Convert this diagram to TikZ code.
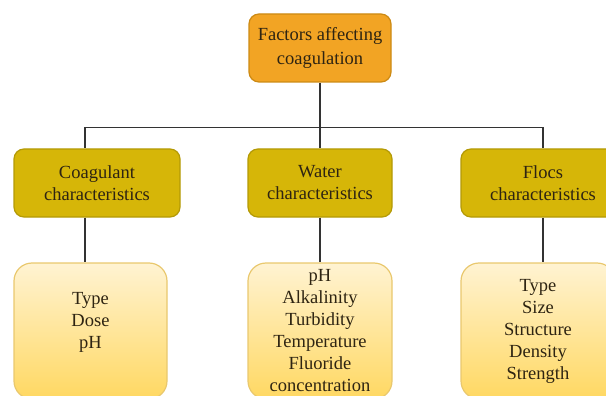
\documentclass[tikz,border=0pt]{standalone}
\usepackage{fontspec}
\setmainfont{Liberation Serif}
\usepackage{tikz}
\usetikzlibrary{positioning}

\definecolor{topfill}{HTML}{F2A424}
\definecolor{topdraw}{HTML}{CC8A14}
\definecolor{midfill}{HTML}{D6B608}
\definecolor{middraw}{HTML}{B49A06}
\definecolor{listtop}{HTML}{FFF3D2}
\definecolor{listbot}{HTML}{FFD862}
\definecolor{listdraw}{HTML}{E9C86E}
\definecolor{txt}{HTML}{2E2412}

\tikzset{
  every node/.style = {text = txt, font = \fontsize{18.5}{22}\selectfont, align = center},
  headbox/.style = {draw = topdraw, fill = topfill, line width = 1.2pt, rounded corners = 10pt,
                    minimum width = 142pt, minimum height = 68pt, font = \fontsize{18.5}{24}\selectfont},
  groupbox/.style = {draw = middraw, fill = midfill, line width = 1.2pt, rounded corners = 10pt,
                     minimum height = 68pt},
  listbox/.style = {draw = listdraw, top color = listtop, bottom color = listbot, line width = 1.2pt,
                    rounded corners = 18pt, minimum height = 136pt},
  link/.style = {draw = black!80, line width = 1.1pt}
}

\begin{document}
\begin{tikzpicture} [node distance = 135pt, on grid]
\useasboundingbox (0,0) rectangle (606pt,-396pt);
\clip (0,0) rectangle (606pt,-396pt);

\node[headbox] (top) at (320pt,-48pt) {Factors affecting\\coagulation};

\node[groupbox, minimum width = 144pt] (water) [below = of top] {Water\\characteristics};
\node[groupbox, minimum width = 166pt] (coag) [left = 223pt of water] {Coagulant\\characteristics};
\node[groupbox, minimum width = 164pt] (flocs) [right = 223pt of water] {Flocs\\characteristics};

\node[listbox, minimum width = 144pt] (waterList) [below = 148pt of water]
  {pH\\Alkalinity\\Turbidity\\Temperature\\Fluoride\\concentration};
\node[listbox, minimum width = 153pt] (coagList) [below = 148pt of coag, xshift = -6.5pt]
  {Type\\Dose\\pH\\[0pt]};
\node[listbox, minimum width = 154pt] (flocsList) [below = 148pt of flocs, xshift = -5pt]
  {Type\\Size\\Structure\\Density\\Strength};

% bus between the levels
\coordinate[above = 21pt of coag.north, xshift = -12pt] (busL);
\coordinate[above = 21pt of flocs.north] (busR);

\draw[link] (top) -- (water);
\draw[link] (busL) -- (busR);
\draw[link] (busL) -- (busL |- coag.north);
\draw[link] (busR) -- (flocs.north);

\draw[link] (busL |- coag.south) -- (busL |- coagList.north);
\draw[link] (water) -- (waterList);
\draw[link] (flocs.south) -- (flocs.south |- flocsList.north);

\end{tikzpicture}
\end{document}
